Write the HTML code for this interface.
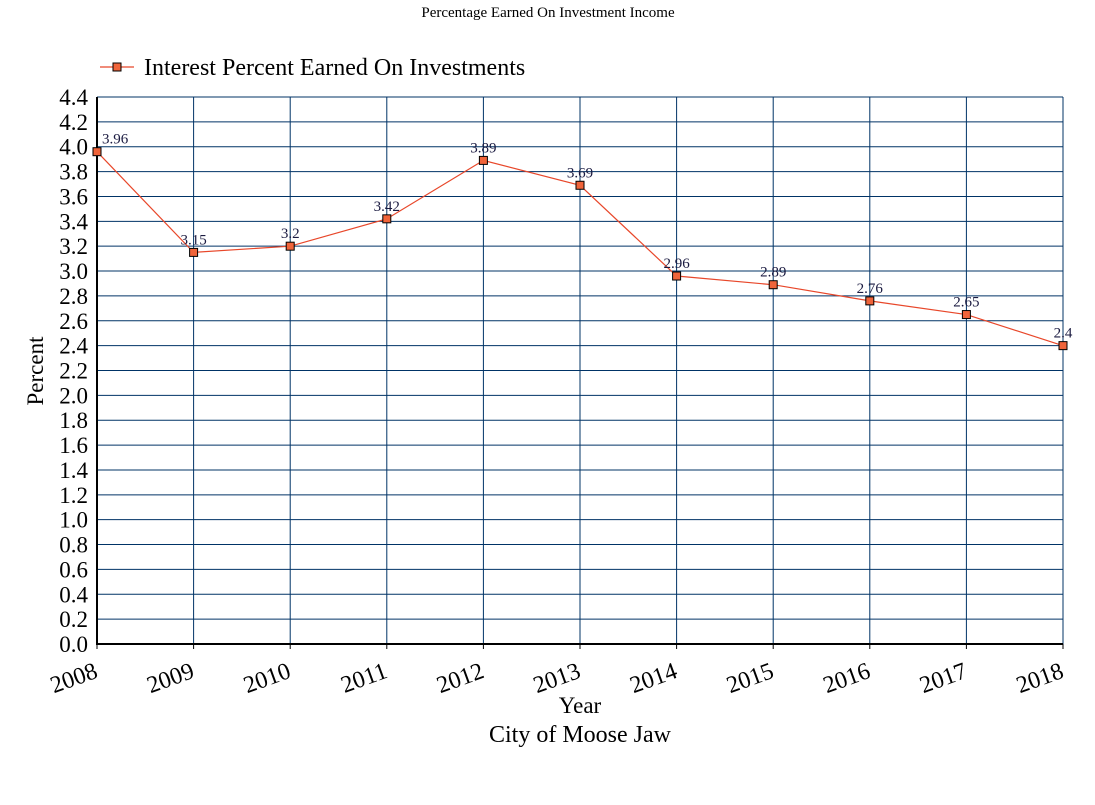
<!DOCTYPE html>
<html><head><meta charset="utf-8"><style>body{margin:0;background:#fff}svg{display:block;font-family:"Liberation Serif",serif}</style></head><body>
<svg id="c" width="1095" height="805" viewBox="0 0 1095 805">
<text x="548" y="17" text-anchor="middle" font-size="15">Percentage Earned On Investment Income</text>
<g>
<line x1="100" y1="67" x2="134" y2="67" stroke="#e8472a" stroke-width="1.2"/>
<rect x="113" y="63" width="8" height="8" fill="#f0643a" stroke="#000" stroke-width="1"/>
<text x="144" y="75" font-size="24">Interest Percent Earned On Investments</text>
</g>
<g id="grid"></g><g id="axes"></g><g id="series"></g>
<text x="580" y="713" text-anchor="middle" font-size="23">Year</text>
<text x="580" y="742" text-anchor="middle" font-size="24">City of Moose Jaw</text>
<text transform="translate(43,371) rotate(-90)" text-anchor="middle" font-size="23">Percent</text>
</svg>
<script>
const categories=["2008","2009","2010","2011","2012","2013","2014","2015","2016","2017","2018"];
const values=[3.96,3.15,3.2,3.42,3.89,3.69,2.96,2.89,2.76,2.65,2.4];
const valueLabels=["3.96","3.15","3.2","3.42","3.89","3.69","2.96","2.89","2.76","2.65","2.4"];
const yTicks=[0,0.2,0.4,0.6,0.8,1.0,1.2,1.4,1.6,1.8,2.0,2.2,2.4,2.6,2.8,3.0,3.2,3.4,3.6,3.8,4.0,4.2,4.4];
const L=97,R=1063,T=97,B=644,YMAX=4.4;
const NS="http://www.w3.org/2000/svg";
function xs(i){return L+(R-L)*i/(categories.length-1);}
function ys(v){return B-(B-T)*v/YMAX;}
function mk(tag,attrs,parent,txt){const e=document.createElementNS(NS,tag);for(const k in attrs)e.setAttribute(k,attrs[k]);if(txt!==undefined)e.textContent=txt;parent.appendChild(e);return e;}
const grid=document.getElementById('grid'),axes=document.getElementById('axes'),series=document.getElementById('series');
yTicks.forEach(t=>{
 const y=ys(t);
 const g=mk('line',{x1:L,x2:R,y1:y,y2:y,stroke:'#003366','stroke-width':1},grid);
 
 
 const tx=mk('text',{x:88,y:y+8,'text-anchor':'end','font-size':23},axes,t.toFixed(1));
 
 
});
categories.forEach((c,i)=>{
 const x=xs(i);
 const g=mk('line',{x1:x,x2:x,y1:T,y2:B,stroke:'#003366','stroke-width':1},grid);
 
 
 mk('line',{x1:x,x2:x,y1:B,y2:B+5,stroke:'#000','stroke-width':1},axes);
 const tx=mk('text',{x:0,y:0,'text-anchor':'end','font-size':24,transform:`translate(${x+2},${B+33}) rotate(-20)`},axes,c);
 
 
});
const ax=mk('path',{d:`M${L},${T}V${B}H${R}`,fill:'none',stroke:'#000','stroke-width':2},axes);


const pl=mk('polyline',{points:values.map((v,i)=>xs(i)+','+ys(v)).join(' '),fill:'none',stroke:'#e8472a','stroke-width':1.2},series);


values.forEach((v,i)=>{
 const x=xs(i),y=ys(v);
 const r=mk('rect',{x:x-4,y:y-4,width:8,height:8,fill:'#f0643a',stroke:'#000','stroke-width':1},series);
 
 
 const t=mk('text',{x:i===0?x+5:x,y:y-8,'text-anchor':i===0?'start':'middle','font-size':15,fill:'#1a1a40'},series,valueLabels[i]);
 
 
});
</script>
</body></html>
